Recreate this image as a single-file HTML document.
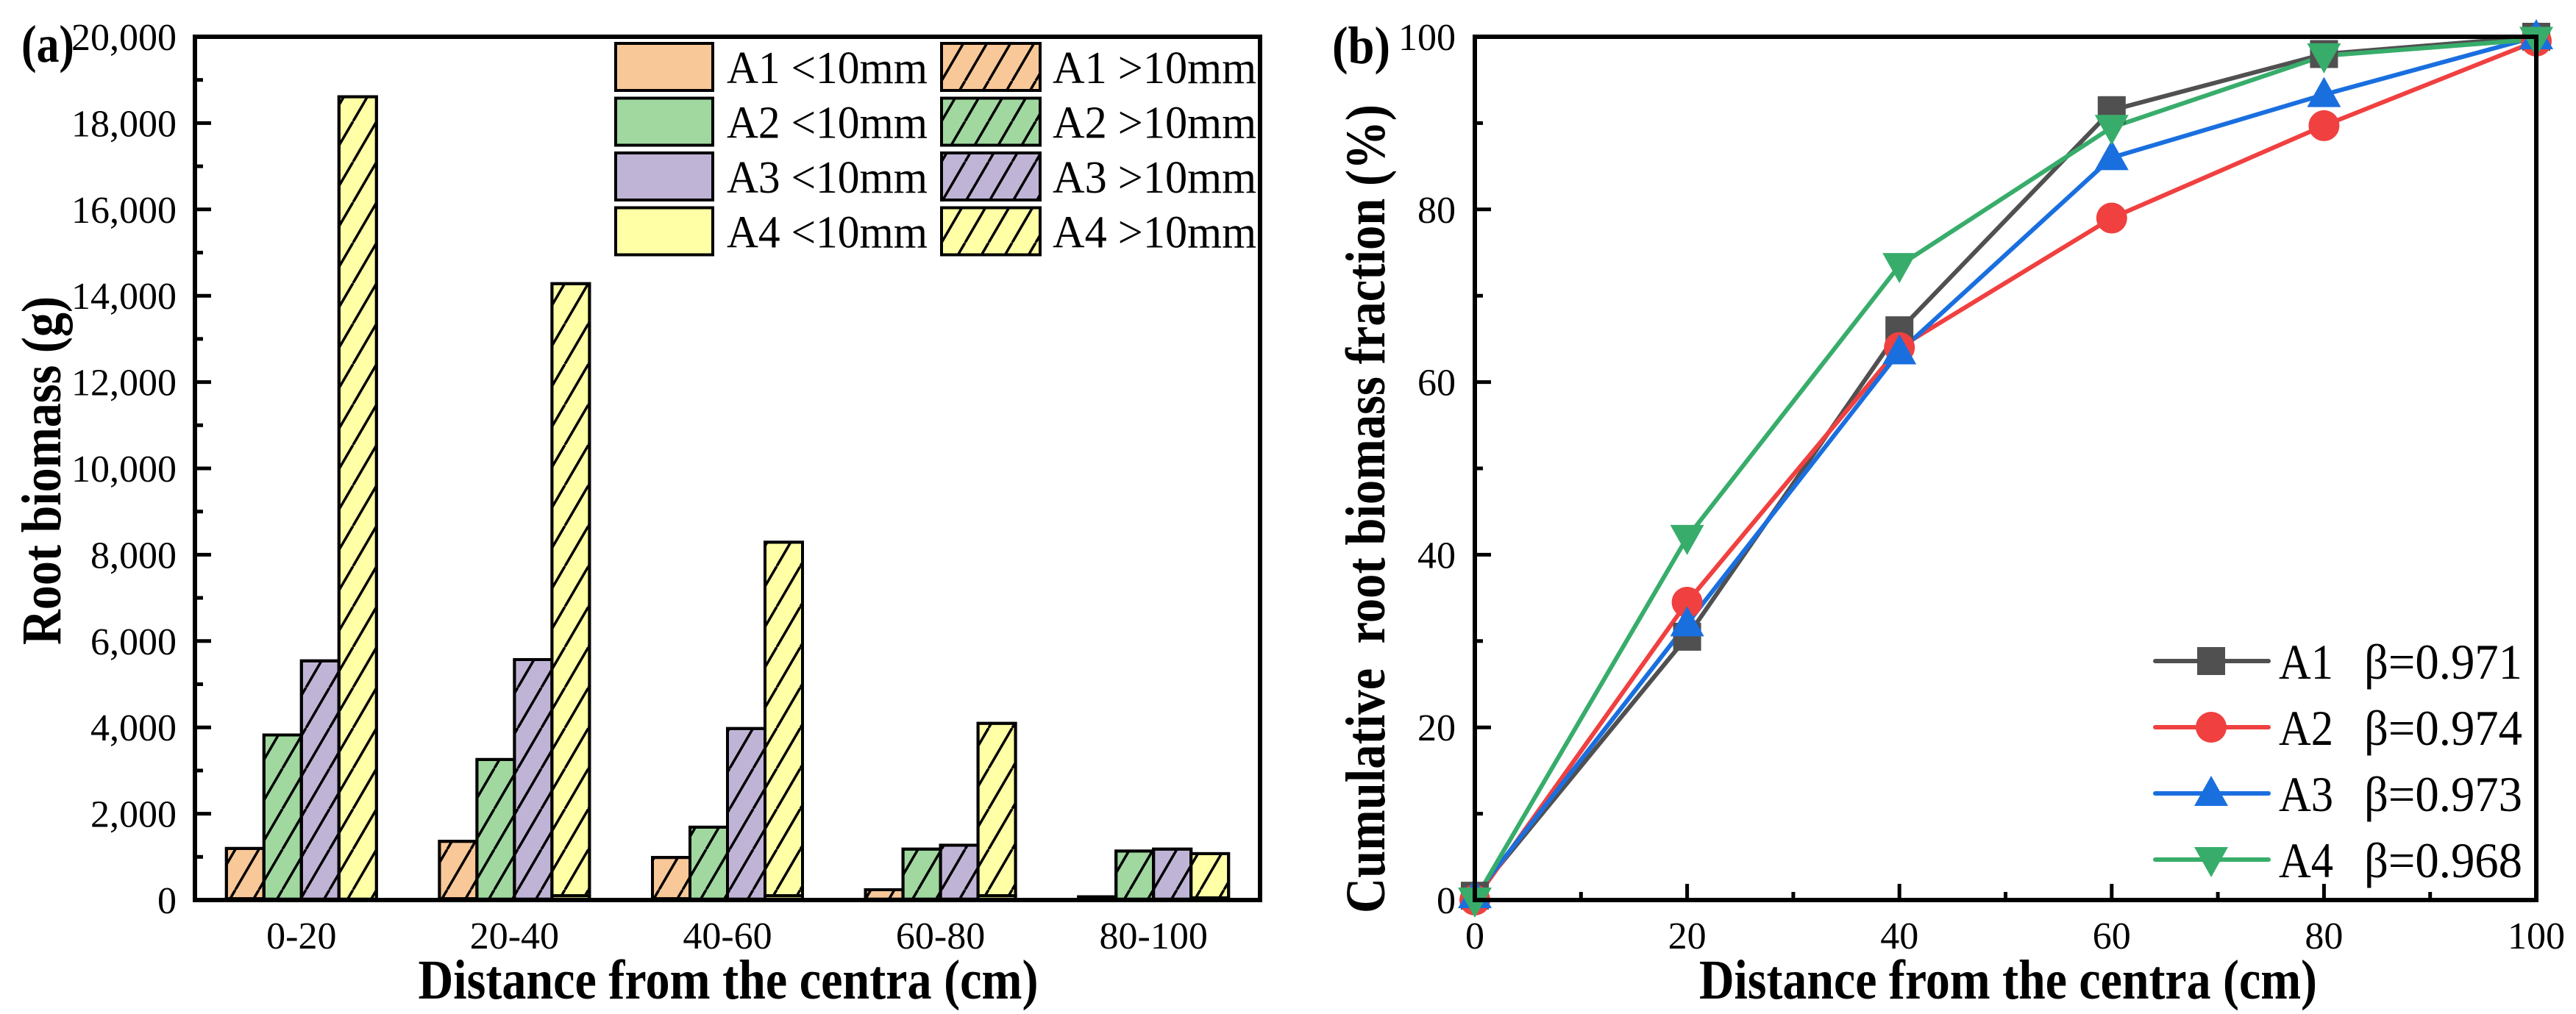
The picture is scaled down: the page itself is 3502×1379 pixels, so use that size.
<!DOCTYPE html>
<html><head><meta charset="utf-8"><style>
html,body{margin:0;padding:0;background:#fff;}
svg{display:block;}
text{font-family:"Liberation Serif","DejaVu Serif",serif;fill:#000;white-space:pre;}
</style></head><body>
<svg id="fig" width="3502" height="1379" viewBox="0 0 3502 1379" xmlns="http://www.w3.org/2000/svg">
<defs>
<pattern id="hatch" patternUnits="userSpaceOnUse" width="32" height="55">
<line x1="-32" y1="55" x2="0" y2="0" stroke="#000" stroke-width="3.5"/>
<line x1="0" y1="55" x2="32" y2="0" stroke="#000" stroke-width="3.5"/>
<line x1="32" y1="55" x2="64" y2="0" stroke="#000" stroke-width="3.5"/>
</pattern>
</defs>
<g id="chartA"></g>
<g id="chartB"></g>
</svg>
<script>
// ---------- Chart (a) data ----------
const catsA = ["0-20","20-40","40-60","60-80","80-100"];
const seriesNames = ["A1","A2","A3","A4"];
const fineA1 = [30,30,30,20,15];
const fineA2 = [20,20,20,20,20];
const fineA3 = [20,20,20,20,20];
const fineA4 = [20,100,100,100,50];
const totalA1 = [1195,1360,986,239,75];
const totalA2 = [3824,3256,1688,1180,1135];
const totalA3 = [5541,5571,3973,1270,1180];
const totalA4 = [18610,14280,8290,4093,1075];
const yTicksA = [0,2000,4000,6000,8000,10000,12000,14000,16000,18000,20000];
const yTickLabelsA = ["0","2,000","4,000","6,000","8,000","10,000","12,000","14,000","16,000","18,000","20,000"];
// ---------- Chart (b) data ----------
const xB = [0,20,40,60,80,100];
const yB_A1 = [0.5,30.5,66,91.5,98,100];
const yB_A2 = [0,34.5,64,79,89.7,99.5];
const yB_A3 = [0.5,32,63.5,86,93.3,100];
const yB_A4 = [0,42,73.5,89.5,97.8,99.7];
const xTicksB = [0,20,40,60,80,100];
const yTicksB = [0,20,40,60,80,100];
const betaB = ["0.971","0.974","0.973","0.968"];

const NS="http://www.w3.org/2000/svg";
function mk(parent,tag,attrs,txt){const e=document.createElementNS(NS,tag);for(const k in attrs)e.setAttribute(k,attrs[k]);if(txt!==undefined)e.textContent=txt;parent.appendChild(e);return e;}

// ---------- Chart (a) ----------
const gA=document.getElementById('chartA');
const AL=265,AR=1713,AT=50,AB=1224;
const yA=v=>AB-(v/20000)*(AB-AT);
const band=(AR-AL)/catsA.length;
const xCat=i=>AL+band*(i+0.5);
const colors=["#F9C898","#A0D8A0","#C0B4D6","#FFFFA6"];
const fines=[fineA1,fineA2,fineA3,fineA4];
const totals=[totalA1,totalA2,totalA3,totalA4];
const bw=51;
for(let i=0;i<catsA.length;i++){
  for(let s=0;s<4;s++){
    const x=xCat(i)-2*bw+s*bw;
    const f=fines[s][i], t=totals[s][i];
    const r1=mk(gA,'rect',{x:x,y:yA(f),width:bw,height:yA(0)-yA(f),fill:colors[s],stroke:'#000','stroke-width':4});
    
    
    const r2=mk(gA,'rect',{x:x,y:yA(t),width:bw,height:Math.max(0,yA(f)-yA(t)),fill:colors[s],stroke:'#000','stroke-width':4});
    
    
    const h=mk(gA,'rect',{x:x,y:yA(t),width:bw,height:Math.max(0,yA(f)-yA(t)),fill:'url(#hatch)',stroke:'#000','stroke-width':4});
    
    
  }
  const tl=mk(gA,'text',{x:xCat(i),y:1290,'font-size':52,'text-anchor':'middle'},catsA[i]);
  
  
}
for(let k=0;k<yTicksA.length;k++){
  const y=yA(yTicksA[k]);
  const t=mk(gA,'line',{x1:AL,x2:AL+22,y1:y,y2:y,stroke:'#000','stroke-width':5});
  
  
  if(k<yTicksA.length-1){const ym=yA(yTicksA[k]+1000);
    const m=mk(gA,'line',{x1:AL,x2:AL+11,y1:ym,y2:ym,stroke:'#000','stroke-width':5});
    
    }
  const lab=mk(gA,'text',{x:240,y:y+18,'font-size':52,'text-anchor':'end'},yTickLabelsA[k]);
  
  
}
const frA=mk(gA,'rect',{x:AL,y:AT,width:AR-AL,height:AB-AT,fill:'none',stroke:'#000','stroke-width':6});


for(let s=0;s<4;s++){
  const y=59+s*74.5;
  const a=mk(gA,'rect',{x:837,y:y,width:132,height:64,fill:colors[s],stroke:'#000','stroke-width':4});
  
  
  const ta=mk(gA,'text',{x:988,y:y+54,'font-size':62,textLength:273,lengthAdjust:'spacingAndGlyphs'},seriesNames[s]+' <10mm');
  
  
  const b=mk(gA,'rect',{x:1280,y:y,width:134,height:64,fill:colors[s],stroke:'#000','stroke-width':4});
  
  
  const bh=mk(gA,'rect',{x:1280,y:y,width:134,height:64,fill:'url(#hatch)',stroke:'#000','stroke-width':4});
  
  
  const tb=mk(gA,'text',{x:1431,y:y+54,'font-size':62,textLength:277,lengthAdjust:'spacingAndGlyphs'},seriesNames[s]+' >10mm');
  
  
}
</script>
<script>
const gAt=document.getElementById('chartA');
let e;
e=mk(gAt,'text',{x:29,y:84,'font-size':72,'font-weight':'bold',textLength:72,lengthAdjust:'spacingAndGlyphs'},'(a)');


e=mk(gAt,'text',{x:0,y:0,'font-size':76,'font-weight':'bold','text-anchor':'middle',transform:'translate(82,640) rotate(-90)',textLength:474,lengthAdjust:'spacingAndGlyphs'},'Root biomass (g)');


e=mk(gAt,'text',{x:990,y:1358,'font-size':76,'font-weight':'bold','text-anchor':'middle',textLength:843,lengthAdjust:'spacingAndGlyphs'},'Distance from the centra (cm)');



// ---------- Chart (b) ----------
const gB=document.getElementById('chartB');
const BL=2005,BR=3448,BT=50,BB=1224;
const xBs=v=>BL+(v/100)*(BR-BL);
const yBs=v=>BB-(v/100)*(BB-BT);
for(let k=0;k<xTicksB.length;k++){
  const x=xBs(xTicksB[k]);
  e=mk(gB,'line',{x1:x,x2:x,y1:BB,y2:BB-22,stroke:'#000','stroke-width':5});
  
  
  if(k<xTicksB.length-1){const xm=xBs(xTicksB[k]+10);
    e=mk(gB,'line',{x1:xm,x2:xm,y1:BB,y2:BB-11,stroke:'#000','stroke-width':5});
    
    }
  e=mk(gB,'text',{x:x,y:1290,'font-size':52,'text-anchor':'middle'},String(xTicksB[k]));
  
  
}
for(let k=0;k<yTicksB.length;k++){
  const y=yBs(yTicksB[k]);
  e=mk(gB,'line',{x1:BL,x2:BL+22,y1:y,y2:y,stroke:'#000','stroke-width':5});
  
  
  if(k<yTicksB.length-1){const ym=yBs(yTicksB[k]+10);
    e=mk(gB,'line',{x1:BL,x2:BL+11,y1:ym,y2:ym,stroke:'#000','stroke-width':5});
    
    }
  e=mk(gB,'text',{x:1979,y:y+18,'font-size':52,'text-anchor':'end'},String(yTicksB[k]));
  
  
}
const lc=["#505050","#F04040","#1A6FDF","#38AD6B"];
const ys=[yB_A1,yB_A2,yB_A3,yB_A4];
function marker(g,s,x,y){
  let m;
  if(s===0) m=mk(g,'rect',{x:x-19,y:y-19,width:38,height:38,fill:lc[0]});
  else if(s===1) m=mk(g,'circle',{cx:x,cy:y,r:21,fill:lc[1]});
  else if(s===2) m=mk(g,'polygon',{points:`${x},${y-24} ${x+23},${y+17} ${x-23},${y+17}`,fill:lc[2]});
  else m=mk(g,'polygon',{points:`${x},${y+24} ${x+23},${y-17} ${x-23},${y-17}`,fill:lc[3]});
  return m;
}
for(let s=0;s<4;s++){
  const pts=xB.map((v,i)=>xBs(v)+','+yBs(ys[s][i])).join(' ');
  e=mk(gB,'polyline',{points:pts,fill:'none',stroke:lc[s],'stroke-width':6,'stroke-linejoin':'round'});
  
  
}
for(let s=0;s<4;s++){
  for(let i=0;i<xB.length;i++){
    e=marker(gB,s,xBs(xB[i]),yBs(ys[s][i]));
    
    
  }
}
e=mk(gB,'rect',{x:BL,y:BT,width:BR-BL,height:BB-BT,fill:'none',stroke:'#000','stroke-width':6});


for(let s=0;s<4;s++){
  const y=899+s*90;
  e=mk(gB,'line',{x1:2930,x2:3084,y1:y,y2:y,stroke:lc[s],'stroke-width':6,'stroke-linecap':'round'});
  
  
  e=marker(gB,s,3006,y);
  
  
  e=mk(gB,'text',{x:3098,y:y+24,'font-size':68,'font-family':'Liberation Serif, serif',textLength:74,lengthAdjust:'spacingAndGlyphs'},seriesNames[s]);
  
  
  e=mk(gB,'text',{x:3214,y:y+24,'font-size':68,'font-family':'Liberation Serif, serif',textLength:215,lengthAdjust:'spacingAndGlyphs'},'β='+betaB[s]);
  
  
}
e=mk(gB,'text',{x:1811,y:86,'font-size':72,'font-weight':'bold',textLength:79,lengthAdjust:'spacingAndGlyphs'},'(b)');


e=mk(gB,'text',{x:0,y:0,'font-size':76,'font-weight':'bold','text-anchor':'middle',transform:'translate(1882,692) rotate(-90)',textLength:1100,lengthAdjust:'spacingAndGlyphs'},'Cumulative\u00a0\u00a0root biomass fraction (%)');


e=mk(gB,'text',{x:2730,y:1358,'font-size':76,'font-weight':'bold','text-anchor':'middle',textLength:840,lengthAdjust:'spacingAndGlyphs'},'Distance from the centra (cm)');


</script>
</body></html>
